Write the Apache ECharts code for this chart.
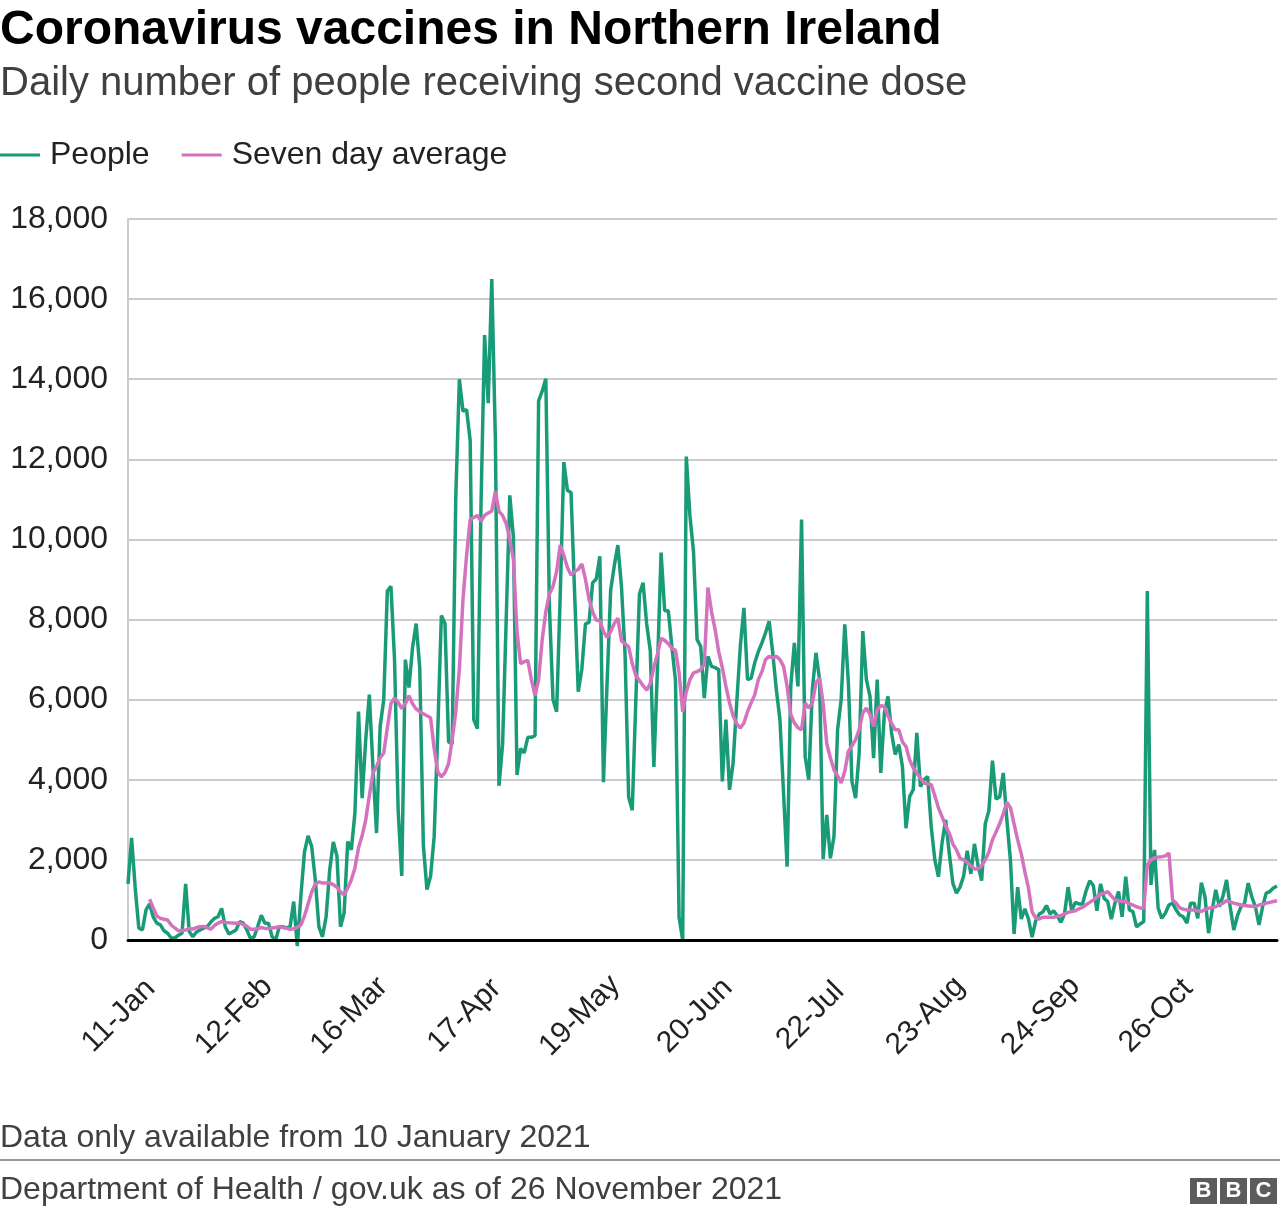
<!DOCTYPE html>
<html>
<head>
<meta charset="utf-8">
<script src="https://cdn.jsdelivr.net/npm/echarts@6/dist/echarts.min.js"></script>
<style>
html,body{margin:0;padding:0;background:#fff;}
#chart{width:1280px;height:1214px;}
</style>
</head>
<body>
<div id="chart"></div>
<script>
// ---- Data ----
const startDate = '2021-01-10';
const dayCount = 320;
const tickLabels = ['11-Jan','12-Feb','16-Mar','17-Apr','19-May','20-Jun','22-Jul','23-Aug','24-Sep','26-Oct'];
const yTicks = [0,2000,4000,6000,8000,10000,12000,14000,16000,18000];

const people = [
 1400,2550,1300,300,250,750,900,580,420,380,
 230,170,50,50,120,170,1400,210,80,200,
 250,300,330,450,540,580,790,330,150,200,
 250,460,420,250,40,80,330,620,420,420,
 80,0,330,330,300,330,960,-150,1100,2200,
 2600,2330,1500,330,80,580,1750,2450,2100,330,
 670,2460,2250,3170,5700,3540,5000,6125,4330,2670,
 5330,6000,8710,8830,7000,3250,1600,7000,6300,7300,
 7900,6800,2360,1260,1590,2580,5200,8100,7900,4950,
 4890,11045,14000,13200,13240,12470,5500,5275,10830,15100,
 13400,16500,12470,3850,4890,8000,11100,10060,4120,4780,
 4670,5060,5060,5100,13460,13700,14010,8300,6000,5700,
 8600,11930,11220,11170,8640,6200,6760,7890,7930,8920,
 9010,9580,3940,6400,8730,9340,9860,8830,7140,3570,
 3240,6010,8640,8920,7890,7230,4320,6800,9670,8220,
 8220,7320,6480,560,0,12070,10600,9700,7500,7330,
 6040,7080,6830,6800,6750,3960,5500,3750,4420,5920,
 7330,8290,6500,6540,6920,7200,7420,7670,7960,7170,
 6250,5500,3670,1830,6330,7420,6330,10500,4580,4000,
 6250,7170,6500,2020,3125,2040,2580,5250,6000,7880,
 6420,3960,3540,4670,7710,6500,6080,4540,6500,4170,
 5670,6080,5170,4630,4880,4330,2790,3580,3750,5170,
 3830,4000,4080,2830,2000,1580,2420,3000,2170,1420,
 1170,1320,1600,2230,1650,2400,1860,1480,2900,3230,
 4480,3520,3570,4170,3000,1980,150,1320,525,775,
 525,70,480,650,700,860,650,730,600,440,
 650,1320,730,940,900,900,1230,1480,1360,730,
 1400,1040,960,520,920,1210,580,1580,750,710,
 330,400,460,8710,1375,2250,800,540,670,875,
 920,750,625,580,420,920,920,540,1430,1080,
 170,750,1250,830,1100,1500,830,250,600,830,
 920,1420,1080,830,375,830,1170,1210,1300,1350
];

const sevenDayAverage = [
 null,null,null,null,null,null,1017,800,600,540,
 520,500,375,300,230,240,250,290,270,310,
 330,340,310,270,360,420,460,440,430,425,
 420,420,390,340,270,270,280,310,290,290,
 300,310,330,310,290,270,280,320,375,600,
 900,1200,1400,1450,1420,1420,1430,1380,1320,1200,
 1125,1300,1500,1800,2300,2600,3000,3600,4170,4330,
 4550,4670,5300,5900,6040,5930,5780,5900,6100,5900,
 5770,5700,5650,5600,5550,4780,4200,4070,4180,4400,
 5000,5700,6760,8500,9600,10500,10550,10600,10450,10600,
 10660,10710,11200,10700,10600,10400,10000,9500,7700,6900,
 6950,6980,6500,6100,6500,7500,8200,8640,8830,9200,
 9860,9600,9300,9110,9200,9250,9390,9010,8500,8200,
 7980,7980,7700,7560,7700,7900,8030,7470,7400,7320,
 6900,6600,6480,6350,6240,6400,6800,7140,7530,7480,
 7400,7280,7230,6670,5700,6200,6500,6670,6700,6750,
 6880,8800,8200,7750,7200,6800,6330,5920,5600,5400,
 5290,5420,5700,5920,6120,6500,6700,7000,7080,7040,
 7080,7000,6830,6330,5630,5420,5300,5250,5920,5790,
 5920,6420,6540,5900,4900,4550,4250,4100,3920,4210,
 4710,4850,5000,5250,5670,5790,5630,5330,5750,5850,
 5830,5600,5400,5250,5250,4950,4830,4500,4300,4170,
 4040,3920,3900,3880,3600,3300,3080,2850,2670,2400,
 2250,2040,2000,1940,1850,1775,1775,1850,2000,2190,
 2500,2700,2900,3150,3440,3300,2900,2500,2150,1700,
 1300,700,550,525,570,570,570,570,590,610,
 650,690,710,730,780,815,880,940,1000,1070,
 1150,1170,1210,1100,1000,980,960,960,900,875,
 830,800,790,1875,2000,2050,2070,2080,2100,2170,
 1000,920,800,770,750,750,750,730,710,760,
 790,810,830,880,920,980,950,920,900,875,
 860,850,840,830,875,890,920,940,960,980
];

// ---- Categories: one per day ----
const monthNames = ['Jan','Feb','Mar','Apr','May','Jun','Jul','Aug','Sep','Oct','Nov','Dec'];
const categories = [];
{
  const d0 = new Date(startDate + 'T00:00:00Z');
  for (let i = 0; i < dayCount; i++) {
    const d = new Date(d0.getTime() + i * 86400000);
    categories.push(d.getUTCDate() + '-' + monthNames[d.getUTCMonth()]);
  }
}

const FONT = '"Liberation Sans", Arial, Helvetica, sans-serif';
const GREEN = '#1a9b77';
const PINK = '#d472c0';

const chart = echarts.init(document.getElementById('chart'), null, {renderer: 'canvas'});
chart.setOption({
  animation: false,
  backgroundColor: '#ffffff',
  textStyle: {fontFamily: FONT},
  title: [
    {text: 'Coronavirus vaccines in Northern Ireland', left: 0, top: 7, padding: 0,
     textStyle: {fontFamily: FONT, fontSize: 48, fontWeight: 'bold', color: '#000'}},
    {text: 'Daily number of people receiving second vaccine dose', left: 0, top: 64, padding: 0,
     textStyle: {fontFamily: FONT, fontSize: 40, fontWeight: 'normal', color: '#404040'}},
    {text: 'Data only available from 10 January 2021', left: 0, top: 1122, padding: 0,
     textStyle: {fontFamily: FONT, fontSize: 32, fontWeight: 'normal', color: '#404040'}},
    {text: 'Department of Health / gov.uk as of 26 November 2021', left: 0, top: 1174, padding: 0,
     textStyle: {fontFamily: FONT, fontSize: 32, fontWeight: 'normal', color: '#404040'}}
  ],
  legend: {
    left: 0, top: 139, padding: 0,
    itemWidth: 40, itemHeight: 3, itemGap: 32,
    textStyle: {fontFamily: FONT, fontSize: 32, color: '#222', padding: [0, 0, 0, 5]},
    data: [{name: 'People', icon: 'rect'}, {name: 'Seven day average', icon: 'rect'}]
  },
  grid: {left: 128, right: 3, top: 219, bottom: 274, containLabel: false},
  xAxis: {
    type: 'category',
    data: categories,
    boundaryGap: false,
    z: 10,
    axisLine: {show: true, lineStyle: {color: '#000', width: 3}},
    axisTick: {show: false},
    splitLine: {show: false},
    axisLabel: {
      interval: function (index, value) { return tickLabels.indexOf(value) >= 0; },
      rotate: 45,
      align: 'center',
      margin: 63,
      padding: [0, 36, 0, 0],
      fontFamily: FONT, fontSize: 30, color: '#222'
    }
  },
  yAxis: {
    type: 'value',
    min: yTicks[0], max: yTicks[yTicks.length - 1], interval: yTicks[1] - yTicks[0],
    axisLine: {show: true, lineStyle: {color: '#cccccc', width: 2}},
    axisTick: {show: false},
    splitLine: {show: true, lineStyle: {color: '#cccccc', width: 2}},
    axisLabel: {
      margin: 20, fontFamily: FONT, fontSize: 32, color: '#222',
      formatter: function (v) { return v.toLocaleString('en-US'); }
    }
  },
  series: [
    {name: 'People', type: 'line', data: people, symbol: 'none', clip: false,
     color: GREEN, lineStyle: {color: GREEN, width: 3.5}, z: 2},
    {name: 'Seven day average', type: 'line', data: sevenDayAverage, symbol: 'none', clip: false,
     connectNulls: false, color: PINK, lineStyle: {color: PINK, width: 3.5}, z: 3}
  ],
  graphic: [
    {type: 'line', shape: {x1: 0, y1: 1160, x2: 1280, y2: 1160}, style: {stroke: '#9a9a9a', lineWidth: 2}},
    {type: 'group', left: 1190, top: 1178, children: [
      {type: 'rect', shape: {x: 0, y: 0, width: 27, height: 26}, style: {fill: '#5c5c5c'}},
      {type: 'rect', shape: {x: 30, y: 0, width: 27, height: 26}, style: {fill: '#5c5c5c'}},
      {type: 'rect', shape: {x: 60, y: 0, width: 27, height: 26}, style: {fill: '#5c5c5c'}},
      {type: 'text', style: {x: 13.5, y: 13, text: 'B', fill: '#fff', font: 'bold 22px ' + FONT, textAlign: 'center', textVerticalAlign: 'middle'}},
      {type: 'text', style: {x: 43.5, y: 13, text: 'B', fill: '#fff', font: 'bold 22px ' + FONT, textAlign: 'center', textVerticalAlign: 'middle'}},
      {type: 'text', style: {x: 73.5, y: 13, text: 'C', fill: '#fff', font: 'bold 22px ' + FONT, textAlign: 'center', textVerticalAlign: 'middle'}}
    ]}
  ]
});
</script>
</body>
</html>
